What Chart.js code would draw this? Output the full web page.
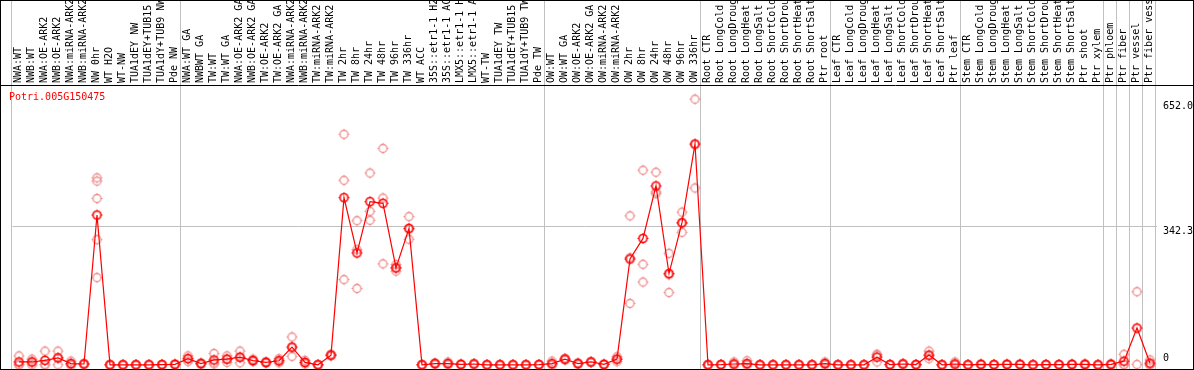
<!DOCTYPE html>
<html>
<head>
<meta charset="utf-8">
<script src="https://cdn.jsdelivr.net/npm/chart.js@4/dist/chart.umd.min.js"></script>
<style>
  html, body { margin: 0; padding: 0; background: #fff; overflow: hidden; }
  canvas { display: block; }
</style>
</head>
<body>
<canvas id="c" width="1194" height="370"></canvas>
<script>
const geneName = 'Potri.005G150475';

const categories = [
  'NWA:WT','NWB:WT','NWA:OE-ARK2','NWB:OE-ARK2','NWA:miRNA-ARK2','NWB:miRNA-ARK2','NW 0hr','WT H2O','WT-NW','TUA1dEY NW','TUA1dEY+TUB15 NW','TUA1dY+TUB9 NW','Pde NW',
  'NWA:WT GA','NWBWT GA','TW:WT','TW:WT GA','NWA:OE-ARK2 GA','NWB:OE-ARK2 GA','TW:OE-ARK2','TW:OE-ARK2 GA','NWA:miRNA-ARK2','NWB:miRNA-ARK2','TW:miRNA-ARK2','TW:miRNA-ARK2',
  'TW 2hr','TW 8hr','TW 24hr','TW 48hr','TW 96hr','TW 336hr','WT ACC','35S::etr1-1 H2O','35S::etr1-1 ACC','LMX5::etr1-1 H2O','LMX5::etr1-1 ACC','WT-TW','TUA1dEY TW','TUA1dEY+TUB15 TW','TUA1dY+TUB9 TW','Pde TW',
  'OW:WT','OW:WT GA','OW:OE-ARK2','OW:OE-ARK2 GA','OW:miRNA-ARK2','OW:miRNA-ARK2','OW 2hr','OW 8hr','OW 24hr','OW 48hr','OW 96hr','OW 336hr',
  'Root CTR','Root LongCold','Root LongDrought','Root LongHeat','Root LongSalt','Root ShortCold','Root ShortDrought','Root ShortHeat','Root ShortSalt','Ptr root',
  'Leaf CTR','Leaf LongCold','Leaf LongDrought','Leaf LongHeat','Leaf LongSalt','Leaf ShortCold','Leaf ShortDrought','Leaf ShortHeat','Leaf ShortSalt','Ptr leaf',
  'Stem CTR','Stem LongCold','Stem LongDrought','Stem LongHeat','Stem LongSalt','Stem ShortCold','Stem ShortDrought','Stem ShortHeat','Stem ShortSalt','Ptr shoot','Ptr xylem',
  'Ptr phloem','Ptr fiber','Ptr vessel','Ptr fiber vessel'
];

const meanValues = [
  7, 7, 11, 17, 3, 2, 371, 0, 0, 0, 0, 0.5, 1,
  15, 3, 12, 14, 19, 10.5, 6, 10, 44, 6, 0, 24, 414, 277, 404, 400, 240, 338, 0, 3, 3, 1, 2, 0, 0, 0, 0, 0.5,
  3, 14, 3, 7, 1, 14, 262, 313, 443, 226, 352, 547,
  0, 0.5, 2, 3, 0, 0, 0, 0, 0, 3,
  0, 0, 0, 19, 0.5, 2, 0.5, 24, 0, 2,
  0, 1, 0.5, 1, 1, 0, 0.5, 0.5, 1, 1, 0,
  1, 9, 91, 4
];

const replicates = [
  [22,0,0],[14,7,0],[34,0,0],[34,17,0],[9,0,0],[3,2,1],[463,455,412,310,216],[0,0,0],[0,0,0],[0,0,0],[0,0,0],[1,0,0],[2,1,0],
  [22,15,8],[5,3,1],[28,5,2],[22,14,6],[34,18,5],[14,10,8],[8,6,4],[15,10,5],[69,42,21],[11,5,2],[0,0,0],[26,24,22],
  [571,457,211],[357,285,189],[475,380,358],[536,413,250],[248,240,232],[367,336,311],[0,0,0],[5,3,1],[7,2,0],[2,1,0],[3,2,1],[0,0,0],[0,0,0],[0,0,0],[0,0,0],[1,0,0],
  [9,0,0],[16,14,12],[5,3,1],[8,7,6],[2,1,0],[20,14,8],[369,265,152],[482,249,205],[477,428,424],[276,223,179],[378,350,328],[658,545,438],
  [0,0,0],[1,0,0],[7,0,0],[10,0,0],[0,0,0],[0,0,0],[0,0,0],[0,0,0],[0,0,0],[7,2,0],
  [0,0,0],[0,0,0],[0,0,0],[26,24,7],[1,0,0],[3,2,1],[1,0,0],[34,22,15],[0,0,0],[7,0,0],
  [0,0,0],[2,1,0],[1,0,0],[2,1,0],[2,1,0],[0,0,0],[1,0,0],[1,0,0],[2,1,0],[3,0,0],[0,0,0],
  [3,0,0],[26,1,0],[181,1],[12,0,0]
];

const yTickValues = [0, 342.3, 652.0];
const yTickLabels = ['0', '342.3', '652.0'];
const groupStarts = [0, 13, 41, 53, 63, 73, 84, 85, 86, 87, 88];

function makeMarker(color, lw) {
  const c = document.createElement('canvas');
  c.width = 13; c.height = 13;
  const g = c.getContext('2d');
  g.strokeStyle = color;
  g.lineWidth = lw;
  g.beginPath(); g.arc(6.5, 6.5, 4, 0, Math.PI * 2); g.stroke();
  g.lineWidth = 1;
  g.beginPath();
  g.moveTo(6.5, 1); g.lineTo(6.5, 2.5);
  g.moveTo(6.5, 10.5); g.lineTo(6.5, 12);
  g.moveTo(1, 6.5); g.lineTo(2.5, 6.5);
  g.moveTo(10.5, 6.5); g.lineTo(12, 6.5);
  g.stroke();
  return c;
}
const meanMarker = makeMarker('#ff0000', 1.6);
const repMarker = makeMarker('#ef8f8f', 1.3);

const maxReps = Math.max(...replicates.map(r => r.length));
const repDatasets = [];
for (let j = 0; j < maxReps; j++) {
  repDatasets.push({
    label: 'rep' + (j + 1),
    data: replicates.map(r => (r[j] === undefined ? null : r[j])),
    showLine: false,
    pointStyle: repMarker,
    pointRadius: 4,
    pointHoverRadius: 4,
    borderColor: '#ef8f8f',
    backgroundColor: 'transparent',
    clip: false,
    order: 1
  });
}

const MONO = '"DejaVu Sans Mono", "Liberation Mono", monospace';

const framePlugin = {
  id: 'frame',
  beforeDatasetsDraw(chart) {
    const ctx = chart.ctx;
    const xs = chart.scales.x;
    const step = xs.getPixelForValue(1) - xs.getPixelForValue(0);
    ctx.save();
    ctx.strokeStyle = '#c0c0c0';
    ctx.lineWidth = 1;
    groupStarts.forEach(k => {
      const px = Math.round(xs.getPixelForValue(0) + (k - 0.5) * step - 1.5) + 0.5;
      ctx.beginPath();
      ctx.moveTo(px, 0);
      ctx.lineTo(px, chart.height);
      ctx.stroke();
    });
    ctx.restore();
  },
  afterDraw(chart) {
    const ctx = chart.ctx;
    const ys = chart.scales.y;
    const area = chart.chartArea;
    ctx.save();
    ctx.strokeStyle = '#000';
    ctx.lineWidth = 1;
    ctx.strokeRect(0.5, 0.5, chart.width - 1, chart.height - 1);
    ctx.beginPath();
    ctx.moveTo(0, Math.round(area.top) + 0.5);
    ctx.lineTo(chart.width, Math.round(area.top) + 0.5);
    ctx.stroke();
    ctx.font = '10px ' + MONO;
    ctx.fillStyle = '#ff0000';
    ctx.textAlign = 'left';
    ctx.textBaseline = 'middle';
    ctx.fillText(geneName, 9, 97);
    ctx.fillStyle = '#000';
    ctx.textBaseline = 'top';
    yTickValues.forEach((v, i) => {
      let py = ys.getPixelForValue(v);
      py = Math.min(py, area.bottom - 11);
      ctx.fillText(yTickLabels[i], area.right + 6.5, py);
    });
    ctx.restore();
  }
};

new Chart(document.getElementById('c'), {
  type: 'line',
  data: {
    labels: categories,
    datasets: [
      {
        label: geneName,
        data: meanValues,
        borderColor: '#ff0000',
        borderWidth: 1.2,
        tension: 0,
        pointStyle: meanMarker,
        pointRadius: 4,
        pointHoverRadius: 4,
        backgroundColor: 'transparent',
        clip: false,
        order: 0
      },
      ...repDatasets
    ]
  },
  options: {
    responsive: false,
    animation: false,
    devicePixelRatio: 1,
    events: [],
    layout: { padding: { left: 12.5, right: 0, top: 0, bottom: 2 } },
    plugins: { legend: { display: false }, tooltip: { enabled: false } },
    scales: {
      x: {
        type: 'category',
        position: 'top',
        offset: true,
        grid: { display: false, drawTicks: false },
        border: { display: false },
        ticks: {
          autoSkip: false,
          minRotation: 90,
          maxRotation: 90,
          padding: 2,
          labelOffset: 11,
          color: '#000',
          font: { family: MONO, size: 10 }
        },
        afterFit(s) { s.height = 85; }
      },
      y: {
        type: 'linear',
        position: 'right',
        min: 0,
        max: 693,
        afterBuildTicks(axis) { axis.ticks = yTickValues.map(v => ({ value: v })); },
        grid: {
          drawTicks: false,
          color: ctx => (ctx.tick && ctx.tick.value === 342.3 ? '#c0c0c0' : 'rgba(0,0,0,0)')
        },
        border: { display: false },
        ticks: { display: false },
        afterFit(s) { s.width = 37.5; }
      }
    }
  },
  plugins: [framePlugin]
});
</script>
</body>
</html>
